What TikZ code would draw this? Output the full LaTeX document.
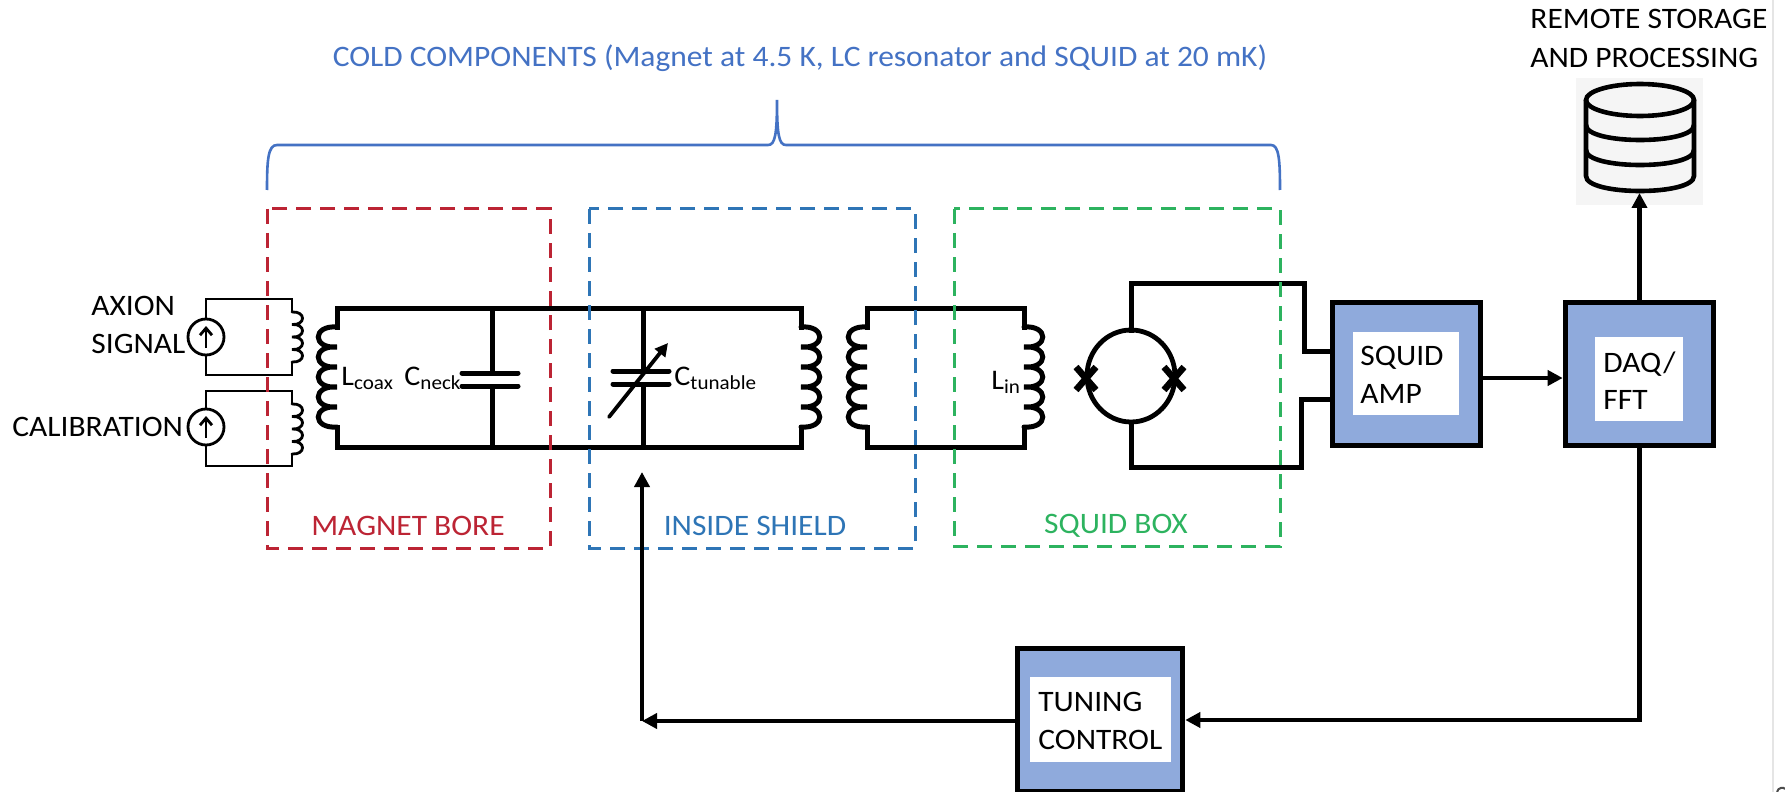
\documentclass[tikz,border=0pt]{standalone}
\usepackage{fontspec}
\setmainfont[FakeStretch=1.06]{Carlito}
\usetikzlibrary{arrows.meta}
\definecolor{cred}{HTML}{BC2434}
\definecolor{cblue}{HTML}{2E75B6}
\definecolor{cgreen}{HTML}{2DB35F}
\definecolor{bracec}{HTML}{4472C4}
\definecolor{boxfill}{HTML}{8FAADC}
\tikzset{
 x=0.5pt,y=-0.5pt,
 wire/.style={line width=2.5pt,line cap=rect,line join=miter},
 thinw/.style={line width=1.3pt,line join=miter},
 redbox/.style={draw=cred,line width=1.5pt,dash pattern=on 7.5pt off 4.5pt},
 bluebox/.style={draw=cblue,line width=1.5pt,dash pattern=on 7.5pt off 4.5pt},
 greenbox/.style={draw=cgreen,line width=1.5pt,dash pattern=on 7.5pt off 4.5pt},
 blockbox/.style={draw=black,fill=boxfill,line width=2.8pt,inner sep=0pt},
 lbl/.style={inner sep=0pt,anchor=base west,font=\fontsize{14.85}{17}\selectfont},
 sublbl/.style={inner sep=0pt,anchor=base west,font=\fontsize{14.2}{17}\selectfont},
 arroww/.style={line width=2.3pt,-{Triangle[length=7.5pt,width=7.5pt]}},
 source/.style={circle,draw=black,fill=white,line width=1.4pt,minimum size=18pt,inner sep=0pt},
}
\begin{document}
\begin{tikzpicture}
\useasboundingbox (0,0) rectangle (1785,792);
\fill[white] (0,0) rectangle (1785,792);
\draw[line width=1pt,draw=black!10] (1773,0) -- (1773,792);
\draw[line width=1pt,black!70] (1777,792) .. controls (1778,787) and (1784,787) .. (1785,789);
% title
\node[lbl,text=bracec,anchor=base] (title) at (800,67) {COLD COMPONENTS (Magnet at 4.5 K, LC resonator and SQUID at 20 mK)};
% brace
\coordinate (bl) at (267,190);
\coordinate (br) at (1280,190);
\coordinate (bt) at (777,100);
\draw[bracec,line width=1.3pt] (bl) .. controls (267,160) and (268,145) .. (277,145)
 -- (768,145) .. controls (775,145) and (777,135) .. (bt)
 .. controls (777,135) and (779,145) .. (786,145) -- (1271,145)
 .. controls (1279,145) and (1280,160) .. (br);
% wires of main circuit
\draw[wire] (337,327) -- (337,308) -- (801,308) -- (801,327);
\draw[wire] (337,427) -- (337,447) -- (801,447) -- (801,427);
\draw[wire] (867,327) -- (867,308) -- (1024,308) -- (1024,327);
\draw[wire] (867,427) -- (867,447) -- (1024,447) -- (1024,427);
% coils
\foreach \x/\s in {337/-1,867/-1,801/1,1024/1}{
 \draw[line width=2.5pt,line cap=round]
  (\x,327) \foreach \k in {0,1,2,3,4}{
   .. controls ({\x+\s*25},{325+20*\k}) and ({\x+\s*25},{349+20*\k}) .. ({\x},{347+20*\k})
  };
}
% capacitors
\draw[wire] (492,308) -- (492,373);
\draw[wire] (492,386) -- (492,447);
\draw[line width=2.5pt,line cap=round] (462,373) -- (518,373);
\draw[line width=2.5pt,line cap=round] (462,386) -- (518,386);
\draw[wire] (643,308) -- (643,371);
\draw[wire] (643,384) -- (643,447);
\draw[line width=2.5pt,line cap=round] (613,371) -- (669,371);
\draw[line width=2.5pt,line cap=round] (613,384) -- (669,384);
\coordinate (ta) at (609,417);
\coordinate (tb) at (668,343);
\draw[line width=1.9pt,line cap=round,-{Triangle[length=6.5pt,width=6.5pt]}] (ta) -- (tb);
% small loops
\foreach \yt/\yb/\yc in {299/375/337,391/466/427}{
 \draw[thinw] (292,{\yt+13}) -- (292,\yt) -- (206,\yt) -- (206,\yb) -- (292,\yb) -- (292,{\yb-13});
 \draw[line width=1.4pt,line cap=round]
  (292,{\yt+13}) \foreach \k in {0,1,2,3}{
   .. controls (306,{\yt+12+12.5*\k}) and (306,{\yt+26.5+12.5*\k}) .. (292,{\yt+25.5+12.5*\k})
  };
 \node[source] at (206,\yc) {};
 \draw[line width=1.4pt,-{Straight Barb[length=3.5pt,width=6pt]}] (206,{\yc+11}) -- (206,{\yc-11});
}
% SQUID loop
\draw[line width=2.4pt] (1131,376) ellipse (44 and 46);
\draw[wire] (1131,330) -- (1131,283) -- (1304,283) -- (1304,351) -- (1330,351);
\draw[wire] (1131,422) -- (1131,467) -- (1301,467) -- (1301,399) -- (1330,399);
\foreach \x in {1086,1174}{
 \draw[line width=3.3pt] ({\x-10},367) -- ({\x+10},390);
 \draw[line width=3.3pt] ({\x+10},367) -- ({\x-10},390);
}
% dashed boxes
\draw[redbox] (267,209) rectangle (550,548);
\draw[bluebox] (589,209) rectangle (915,548);
\draw[greenbox] (954,209) rectangle (1280,546);
\node[lbl,text=cred,anchor=base] (magbore) at (408,535) {MAGNET BORE};
\node[lbl,text=cblue,anchor=base] (inshield) at (755,535) {INSIDE SHIELD};
\node[lbl,text=cgreen,anchor=base] (squidbox) at (1116,533) {SQUID BOX};
% labels
\node[lbl] (axa) at (91,315) {AXION};
\node[lbl] (axb) at (91,353) {SIGNAL};
\node[lbl] (cal) at (12,436) {CALIBRATION};
\node[sublbl] (lcoax) at (341,385) {L\textsubscript{coax}};
\node[sublbl] (cneck) at (404,385) {C\textsubscript{neck}};
\node[sublbl] (ctun) at (674,385) {C\textsubscript{tunable}};
\node[sublbl] (lin) at (991,389) {L\textsubscript{in}};
% blocks
\fill[black!4] (1576,78) rectangle (1703,205);
\node[blockbox,minimum width=74pt,minimum height=71.5pt] (squid) at (1406.5,374) {};
\node[blockbox,minimum width=74pt,minimum height=71.5pt] (daq) at (1639.5,374) {};
\node[blockbox,minimum width=82.5pt,minimum height=71.5pt] (tune) at (1100,720) {};
\fill[white] (1353,332) rectangle (1459,415);
\fill[white] (1595,337) rectangle (1683,421);
\fill[white] (1030,677) rectangle (1170.5,762);
\node[lbl] (sqa) at (1360,365) {SQUID};
\node[lbl] (sqb) at (1360,403) {AMP};
\node[lbl] (daqa) at (1603,372) {DAQ/};
\node[lbl] (daqb) at (1603,409) {FFT};
\node[lbl] (tua) at (1038,711) {TUNING};
\node[lbl] (tub) at (1038,749) {CONTROL};
\node[lbl] (rema) at (1530,29) {REMOTE STORAGE};
\node[lbl] (remb) at (1530,68) {AND PROCESSING};
% database
\draw[line width=2.3pt,fill=black!4] (1586,100) -- (1586,176) .. controls (1586,196) and (1694,196) .. (1694,176) -- (1694,100);
\draw[line width=2.3pt] (1640,100) ellipse (54 and 16);
\draw[line width=2.3pt] (1586,125) .. controls (1586,145) and (1694,145) .. (1694,125);
\draw[line width=2.3pt] (1586,150) .. controls (1586,170) and (1694,170) .. (1694,150);
% connectors
\coordinate (fb) at (642,721);
\coordinate (fbtop) at (642,472);
\coordinate (dbbot) at (1639.5,193);
\draw[arroww] (squid.east |- 0,378) -- (daq.west |- 0,378);
\draw[arroww] (daq.north) -- (dbbot);
\draw[arroww] (daq.south) -- (1639.5,720) -- (tune.east |- 0,720);
\draw[arroww] (tune.west |- 0,721) -- (fb);
\draw[arroww] (fb) -- (fbtop);
\end{tikzpicture}
\end{document}
